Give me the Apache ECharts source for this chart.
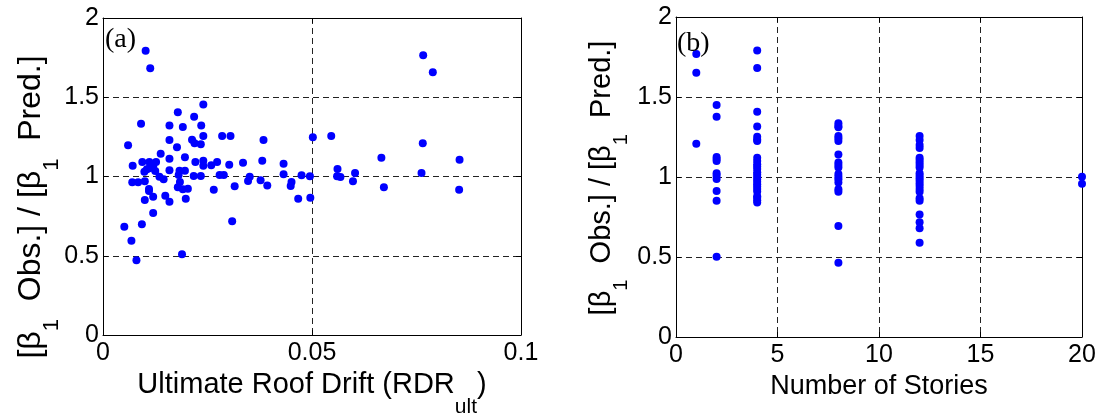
<!DOCTYPE html>
<html><head><meta charset="utf-8">
<script src="https://cdn.jsdelivr.net/npm/echarts@6/dist/echarts.min.js"></script>
<style>html,body{margin:0;padding:0;background:#fff}#c{width:1104px;height:415px}</style>
</head><body><div id="c"></div>
<script>
// Panel (a): ultimate roof drift vs ratio
const rdrX = [0.0102,0.0113,0.0179,0.0240,0.0218,0.0091,0.0159,0.0191,0.0235,0.0240,
  0.0213,0.0159,0.0285,0.0305,0.0384,0.0502,0.0060,0.0177,0.0219,0.0234,
  0.0138,0.0159,0.0196,0.0094,0.0111,0.0127,0.0071,0.0221,0.0240,0.0240,
  0.0259,0.0273,0.0302,0.0335,0.0381,0.0432,0.0099,0.0111,0.0159,0.0183,
  0.0196,0.0181,0.0135,0.0145,0.0217,0.0234,0.0279,0.0289,0.0351,0.0347,
  0.0432,0.0475,0.0495,0.0070,0.0084,0.0100,0.0184,0.0179,0.0191,0.0203,
  0.0110,0.0110,0.0377,0.0393,0.0451,0.0449,0.0265,0.0315,0.0120,0.0149,
  0.0100,0.0159,0.0198,0.0467,0.0496,0.0120,0.0051,0.0093,0.0309,0.0068,
  0.0080,0.0189,0.0766,0.0789,0.0546,0.0765,0.0666,0.0853,0.0561,0.0560,
  0.0568,0.0603,0.0598,0.0762,0.0672,0.0852,0.0120,0.0105,0.0125];
const rdrY = [1.794,1.683,1.405,1.455,1.377,1.333,1.321,1.312,1.321,1.256,
  1.232,1.230,1.256,1.256,1.230,1.247,1.197,1.184,1.209,1.203,
  1.144,1.112,1.121,1.091,1.091,1.091,1.068,1.091,1.100,1.068,
  1.071,1.091,1.074,1.087,1.100,1.081,1.030,1.052,1.039,1.037,
  1.037,1.009,0.999,0.982,1.003,1.003,1.009,1.009,0.999,0.972,
  1.014,1.008,1.001,0.963,0.963,0.970,0.965,0.932,0.919,0.923,
  0.921,0.909,0.976,0.944,0.965,0.940,0.917,0.938,0.873,0.879,
  0.852,0.841,0.860,0.860,0.866,0.770,0.683,0.698,0.717,0.595,
  0.471,0.509,1.765,1.657,1.256,1.209,1.119,1.106,1.047,1.001,
  0.997,1.022,0.970,1.022,0.932,0.917,1.065,1.045,1.035];

// Panel (b): number of stories vs ratio
const storyLevels = [1, 2, 4, 8, 12, 20];
const ratios1 = [1.769,1.652,1.208];
const ratios2 = [1.45,1.377,1.125,1.112,1.10,1.023,1.008,0.988,0.9125,0.852,0.502];
const ratios4 = [1.79,1.681,1.408,1.315,1.252,1.235,1.225,1.12,1.10,1.08,1.065,1.05,1.03,1.015,1.0,0.985,0.97,0.955,0.94,0.925,0.91,0.88,0.87,0.855,0.84];
const ratios8 = [1.336,1.319,1.311,1.256,1.242,1.225,1.14,1.09,1.075,1.06,1.019,1.002,0.986,0.965,0.923,0.908,0.694,0.464];
const ratios12 = [1.256,1.231,1.2,1.181,1.12,1.106,1.09,1.075,1.06,1.023,1.008,0.992,0.977,0.96,0.944,0.925,0.908,0.867,0.852,0.765,0.717,0.679,0.589];
const ratios20 = [1.002,0.958];
const ratiosByStory = [ratios1, ratios2, ratios4, ratios8, ratios12, ratios20];

const xTitleA = 'Ultimate Roof Drift (RDR';
const xTitleASub = 'ult';
const xTitleB = 'Number of Stories';
const yTitleParts = ['[β', '1', '  Obs.] / [β', '1', '  Pred.]'];
const panelLabels = ['(a)', '(b)'];

const dataA = rdrX.map((x, i) => [x, rdrY[i]]);
const dataB = [];
storyLevels.forEach((s, i) => ratiosByStory[i].forEach(r => dataB.push([s, r])));

const FONT = '"Liberation Sans", Arial, sans-serif';
const TICK_FS = 25;
const dashed = { show: true, showMinLine: false, showMaxLine: false, lineStyle: { color: '#222', type: [6, 4], width: 1 } };
const line = { show: true, onZero: false, lineStyle: { color: '#000', width: 1 } };
const tick = { show: true, inside: true, length: 5, lineStyle: { color: '#000' } };

function makeRich(fs, sfs, pad) {
  return {
    m: { fontSize: fs, fontFamily: FONT, color: '#000', lineHeight: fs + 4, verticalAlign: 'top' },
    s: { fontSize: sfs, fontFamily: FONT, color: '#000', lineHeight: sfs, verticalAlign: 'top', padding: [pad, 0, 0, 0] }
  };
}
const richA = makeRich(29, 21, 26);
const richB = makeRich(27, 20, 25);
const yRichA = makeRich(32, 22, 26);
const yRichB = makeRich(29, 20, 24);

function xAxes(gridIndex, min, max, interval, name, nameGap, rich) {
  return [
    { type: 'value', gridIndex, position: 'bottom', min, max, interval,
      axisLine: line, axisTick: tick, splitLine: dashed,
      axisLabel: { fontSize: TICK_FS, fontFamily: FONT, color: '#000', margin: 6, showMinLabel: true, showMaxLabel: true },
      name, nameLocation: 'middle', nameGap,
      nameTextStyle: { color: '#000', rich } },
    { type: 'value', gridIndex, position: 'top', min, max, interval,
      axisLine: line, axisTick: tick, splitLine: { show: false }, axisLabel: { show: false } }
  ];
}
function yAxes(gridIndex) {
  return [
    { type: 'value', gridIndex, position: 'left', min: 0, max: 2, interval: 0.5,
      axisLine: line, axisTick: tick, splitLine: dashed,
      axisLabel: { fontSize: TICK_FS, fontFamily: FONT, color: '#000', margin: 4 } },
    { type: 'value', gridIndex, position: 'right', min: 0, max: 2, interval: 0.5,
      axisLine: line, axisTick: tick, splitLine: { show: false }, axisLabel: { show: false } }
  ];
}

const yTitleText = `{m|${yTitleParts[0]}}{s|${yTitleParts[1]}}{m|${yTitleParts[2]}}{s|${yTitleParts[3]}}{m|${yTitleParts[4]}}`;
function yTitle(x, y, rich) {
  return { type: 'text', x, y, rotation: Math.PI / 2, silent: true,
    style: { text: yTitleText, align: 'center', verticalAlign: 'middle', rich, fill: '#000' } };
}

const chart = echarts.init(document.getElementById('c'), null, { renderer: 'canvas' });
chart.setOption({
  animation: false,
  backgroundColor: '#fff',
  title: [
    { text: panelLabels[0], left: 105, top: 26, padding: 0, textStyle: { fontFamily: '"Liberation Serif", "Times New Roman", serif', fontSize: 28, fontWeight: 'normal', color: '#000' } },
    { text: panelLabels[1], left: 677, top: 30, padding: 0, textStyle: { fontFamily: '"Liberation Serif", "Times New Roman", serif', fontSize: 28, fontWeight: 'normal', color: '#000' } }
  ],
  grid: [
    { left: 103, top: 18, width: 418, height: 317, outerBoundsMode: 'none', containLabel: false },
    { left: 676, top: 17, width: 406, height: 320, outerBoundsMode: 'none', containLabel: false }
  ],
  xAxis: [
    ...xAxes(0, 0, 0.1, 0.05, `{m|${xTitleA}}{s|${xTitleASub}}{m|)}`, 34, richA),
    ...xAxes(1, 0, 20, 5, `{m|${xTitleB}}`, 34, richB)
  ],
  yAxis: [...yAxes(0), ...yAxes(1)],
  graphic: [yTitle(33, 207, yRichA), yTitle(604, 178, yRichB)],
  series: [
    { type: 'scatter', xAxisIndex: 0, yAxisIndex: 0, data: dataA, symbol: 'circle', symbolSize: 8, itemStyle: { color: '#0000ff', opacity: 1 } },
    { type: 'scatter', xAxisIndex: 2, yAxisIndex: 2, data: dataB, symbol: 'circle', symbolSize: 8, itemStyle: { color: '#0000ff', opacity: 1 } }
  ]
});
</script></body></html>
